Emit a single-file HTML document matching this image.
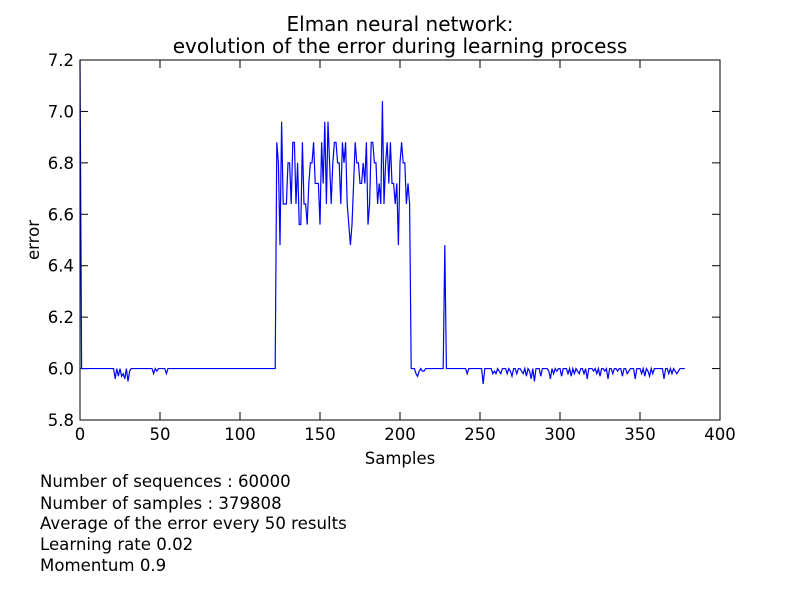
<!DOCTYPE html>
<html><head><meta charset="utf-8"><style>
body{margin:0;background:#fff}
svg{display:block;font-family:"DejaVu Sans","Liberation Sans",sans-serif}
</style></head><body>
<svg id="chart" width="800" height="600" viewBox="0 0 800 600">
<rect width="800" height="600" fill="#fff"/>
<text x="400" y="31" font-size="20" text-anchor="middle">Elman neural network:</text>
<text x="400" y="53" font-size="20" text-anchor="middle">evolution of the error during learning process</text>
<g id="ticks"></g>
<path id="line" fill="none" stroke="#0000ff" stroke-width="1.2"/>
<rect x="80" y="60" width="640" height="360" fill="none" stroke="#000" stroke-width="1"/>
<text x="400" y="464" font-size="16.5" text-anchor="middle">Samples</text>
<text transform="translate(39,240) rotate(-90)" font-size="16.5" text-anchor="middle">error</text>
<g font-size="16.6">
<text x="40" y="487">Number of sequences : 60000</text>
<text x="40" y="509">Number of samples : 379808</text>
<text x="40" y="529">Average of the error every 50 results</text>
<text x="40" y="550">Learning rate 0.02</text>
<text x="40" y="571">Momentum 0.9</text>
</g>
</svg>
<script>
const xTicks=[0,50,100,150,200,250,300,350,400];
const yTicks=[5.8,6.0,6.2,6.4,6.6,6.8,7.0,7.2];
const yTickLabels=["5.8","6.0","6.2","6.4","6.6","6.8","7.0","7.2"];
const errEarly=[7.2,6,6,6,6,6,6,6,6,6,6,6,6,6,6,6,6,6,6,6,
6,6,5.96,6,5.97,6,5.97,5.98,5.96,6,5.95,5.99,6,6,6,6,6,6,6,6,
6,6,6,6,6,6,5.98,6,5.99,6,6,6,6,6,5.98,6,6,6,6,6,
6,6,6,6,6,6,6,6,6,6,6,6,6,6,6,6,6,6,6,6,
6,6,6,6,6,6,6,6,6,6,6,6,6,6,6,6,6,6,6,6,
6,6,6,6,6,6,6,6,6,6,6,6,6,6,6,6,6,6,6,6,6,6];
const errMid=[6.0,
6.88,6.8,6.48,6.96,6.64,6.64,6.64,6.8,6.8,
6.64,6.88,6.88,6.64,6.8,6.56,6.56,6.88,6.64,6.64,
6.56,6.72,6.8,6.8,6.88,6.72,6.72,6.72,6.56,6.88,
6.72,6.96,6.64,6.96,6.8,6.64,6.8,6.88,6.88,6.8,
6.8,6.64,6.88,6.8,6.88,6.64,6.56,6.48,6.56,6.72,
6.88,6.8,6.8,6.72,6.72,6.8,6.72,6.88,6.56,6.64,
6.88,6.88,6.8,6.8,6.64,6.72,6.64,7.04,6.64,6.8,
6.88,6.72,6.88,6.72,6.72,6.64,6.72,6.48,6.8,6.88,
6.8,6.8,6.64,6.72,6.64,6.0];
const errLate=[6,6,5.98,5.97,5.99,6,5.99,5.99,6,6,6,6,
6,6,6,6,6,6,6,6,6.48,6,6,6,6,6,6,6,6,6,6,6,
6,6,5.98,6,6,6,6,6,6,6,6,6,5.94,6,6,6,6,6,5.98,5.99,
5.98,6,5.99,5.98,6,6,6,5.98,6,5.99,5.97,6,6,5.98,6,6,5.99,5.98,6,5.97,
6,5.99,5.96,6,5.95,6,6,6,5.97,6,6,6,6,5.99,5.96,6,5.98,6,5.99,6,
6,5.97,6,6,6,5.98,6,5.97,6,5.98,6,5.99,5.98,6,6,5.98,6,5.96,6,6,
6,5.99,6,5.98,6,5.97,6,6,5.99,6,5.96,6,6,5.98,6,6,5.99,6,6,5.97,
6,6,5.98,5.99,6,6,6,5.96,6,6,6,5.98,6,5.97,6,5.99,5.97,6,5.98,6,
6,6,6,6,6,5.96,6,6,5.98,6,5.98,6,5.99,5.98,5.99,6,6,6,6];
const errors=errEarly.concat(errMid,errLate);
const X=v=>80+(v-0)/400*640;
const Y=v=>420-(v-5.8)/1.4*360;
const ns="http://www.w3.org/2000/svg";
const g=document.getElementById('ticks');
function mk(tag,attrs){const e=document.createElementNS(ns,tag);for(const k in attrs)e.setAttribute(k,attrs[k]);g.appendChild(e);return e;}
xTicks.forEach(t=>{
  const x=X(t);
  const a=mk('line',{x1:x,x2:x,y1:420,y2:412,stroke:'#000'});
  
  
  const b=mk('line',{x1:x,x2:x,y1:60,y2:68,stroke:'#000'});
  
  
  const l=mk('text',{x:x,y:440,'font-size':16.5,'text-anchor':'middle'});
  l.textContent=String(t);
  
  
});
yTicks.forEach((t,i)=>{
  const y=Y(t);
  const a=mk('line',{x1:80,x2:88,y1:y,y2:y,stroke:'#000'});
  
  
  const b=mk('line',{x1:712,x2:720,y1:y,y2:y,stroke:'#000'});
  
  
  const l=mk('text',{x:74,y:y+6,'font-size':16.5,'text-anchor':'end'});
  l.textContent=yTickLabels[i];
  
  
});
document.getElementById('line').setAttribute('d',errors.map((v,i)=>(i?'L':'M')+X(i).toFixed(2)+' '+Y(v).toFixed(2)).join(''));
</script>
</body></html>
